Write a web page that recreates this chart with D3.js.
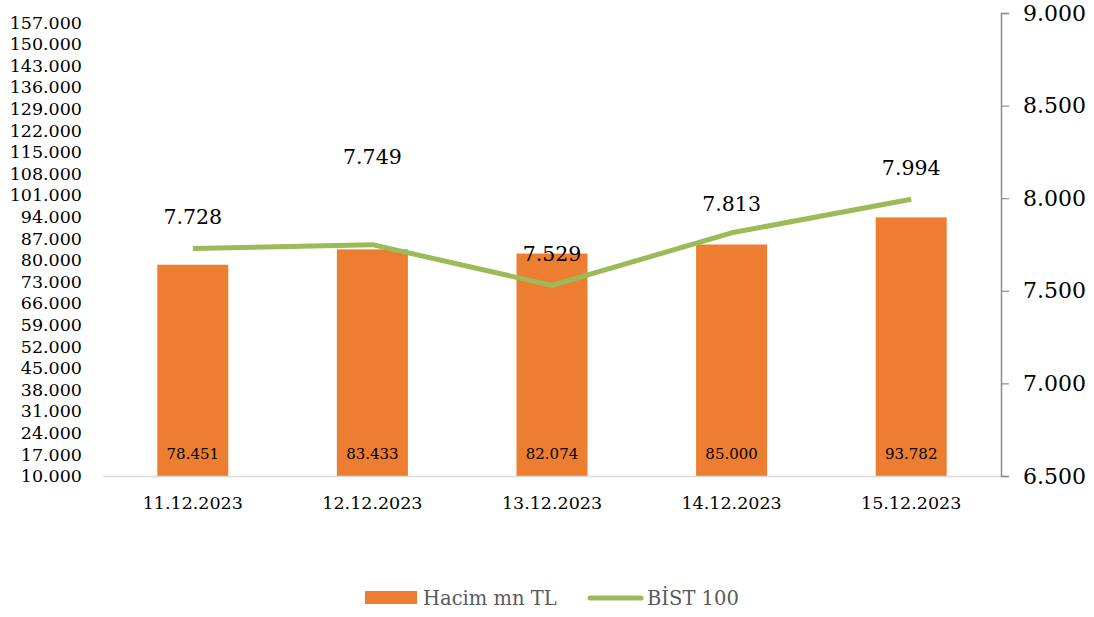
<!DOCTYPE html>
<html><head><meta charset="utf-8">
<script src="https://cdn.jsdelivr.net/npm/d3@7"></script>
<style>body{margin:0;background:#fff}svg{display:block}text{font-family:"DejaVu Serif",serif}</style>
</head><body><svg id="c" width="1094" height="617"></svg>
<script>
const categories = ["11.12.2023","12.12.2023","13.12.2023","14.12.2023","15.12.2023"];
const volume = [78451, 83433, 82074, 85000, 93782];
const bist = [7728, 7749, 7529, 7813, 7994];
const bistLabelLift = [32, 88, 32, 29, 32];
const leftTicks = d3.range(10000, 157001, 7000);
const rightTicks = [6500, 7000, 7500, 8000, 8500, 9000];
const seriesNames = ["Hacim mn TL", "BİST 100"];

const fmt = v => d3.format(",")(v).replace(/,/g, ".");
const fmt3 = v => d3.format(",.0f")(v).replace(/,/g, ".");
const svg = d3.select("#c");
const L = 103, R = 1001, T = 13, B = 476;
const x = d3.scaleBand().domain(categories).range([L, R]);
const yL = d3.scaleLinear().domain([10000, 160000]).range([B, T]);
const yR = d3.scaleLinear().domain([6500, 9000]).range([B, T]);

// left axis labels
svg.append("g").selectAll("text").data(leftTicks).join("text")
  .attr("x", 82).attr("y", d => yL(d)).attr("dy", "0.36em")
  .attr("text-anchor", "end").attr("font-size", 17.5).attr("fill", "#000")
  .text(d => fmt(d));

// bars
const bw = 71;
svg.append("g").selectAll("rect").data(volume).join("rect")
  .attr("x", (d, i) => x(categories[i]) + x.bandwidth() / 2 - bw / 2)
  .attr("width", bw)
  .attr("y", d => yL(d)).attr("height", d => B - yL(d))
  .attr("fill", "#ED7D31");

// baseline
svg.append("line").attr("x1", L).attr("x2", R).attr("y1", B + 0.5).attr("y2", B + 0.5)
  .attr("stroke", "#d9d9d9").attr("stroke-width", 1.5);

// bar labels
svg.append("g").selectAll("text").data(volume).join("text")
  .attr("x", (d, i) => x(categories[i]) + x.bandwidth() / 2)
  .attr("y", 454).attr("dy", "0.36em").attr("text-anchor", "middle")
  .attr("font-size", 15).attr("fill", "#000").text(d => fmt(d));

// right axis
const ra = svg.append("g").attr("transform", `translate(${R},0)`)
  .call(d3.axisRight(yR).tickValues(rightTicks).tickSize(8).tickPadding(14).tickFormat(fmt3));
ra.select(".domain").attr("stroke", "#8c8c8c").attr("stroke-width", 1.5);
ra.selectAll(".tick line").attr("stroke", "#8c8c8c").attr("stroke-width", 1.2);
ra.selectAll(".tick text").attr("font-size", 22).attr("fill", "#000").attr("font-family", "DejaVu Serif");

// category labels
svg.append("g").selectAll("text").data(categories).join("text")
  .attr("x", d => x(d) + x.bandwidth() / 2).attr("y", 503).attr("dy", "0.36em")
  .attr("text-anchor", "middle").attr("font-size", 17.5).attr("fill", "#000").text(d => d);

// line
const line = d3.line().x((d, i) => x(categories[i]) + x.bandwidth() / 2).y(d => yR(d));
svg.append("path").datum(bist).attr("d", line).attr("fill", "none")
  .attr("stroke", "#9BBB59").attr("stroke-width", 5).attr("stroke-linejoin", "round");

// line labels
svg.append("g").selectAll("text").data(bist).join("text")
  .attr("x", (d, i) => x(categories[i]) + x.bandwidth() / 2)
  .attr("y", (d, i) => yR(d) - bistLabelLift[i]).attr("dy", "0.36em")
  .attr("text-anchor", "middle").attr("font-size", 20.5).attr("fill", "#000").text(d => fmt(d));

// legend
const lg = svg.append("g");
lg.append("rect").attr("x", 365).attr("y", 591).attr("width", 52).attr("height", 13).attr("fill", "#ED7D31");
lg.append("text").attr("x", 423).attr("y", 598).attr("dy", "0.36em").attr("font-size", 19.5)
  .attr("fill", "#595959").text(seriesNames[0]);
lg.append("line").attr("x1", 590).attr("x2", 641).attr("y1", 598).attr("y2", 598)
  .attr("stroke", "#9BBB59").attr("stroke-width", 5).attr("stroke-linecap", "round");
lg.append("text").attr("x", 647).attr("y", 598).attr("dy", "0.36em").attr("font-size", 19.5)
  .attr("fill", "#595959").text(seriesNames[1]);
</script></body></html>
